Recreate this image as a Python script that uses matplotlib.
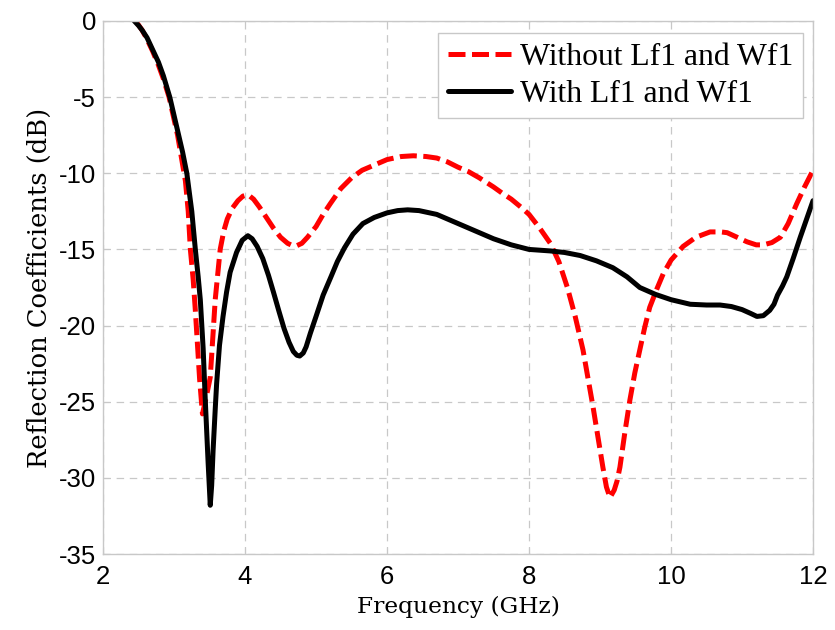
import numpy as np
import matplotlib
matplotlib.use("Agg")
import matplotlib.pyplot as plt

# Frequency sweep (GHz) and reflection coefficient (dB), without Lf1/Wf1
freq_without = [2.00, 2.05, 2.40, 2.46, 2.55, 2.62, 2.70, 2.78, 2.85, 2.93,
                3.05, 3.16, 3.20, 3.23, 3.27, 3.30, 3.36, 3.40, 3.44, 3.51,
                3.55, 3.58, 3.65, 3.70, 3.75, 3.82, 3.90, 3.97, 4.04, 4.12,
                4.20, 4.30, 4.40, 4.50, 4.60, 4.67, 4.73, 4.80, 4.88, 5.00,
                5.10, 5.20, 5.35, 5.50, 5.65, 5.80, 6.00, 6.20, 6.37, 6.55,
                6.70, 6.85, 7.00, 7.15, 7.30, 7.50, 7.62, 7.75, 7.88, 8.00,
                8.15, 8.30, 8.42, 8.54, 8.65, 8.76, 8.90, 8.97, 9.04, 9.09,
                9.14, 9.20, 9.24, 9.28, 9.35, 9.42, 9.49, 9.56, 9.63, 9.70,
                9.80, 9.89, 10.00, 10.17, 10.35, 10.55, 10.70, 10.79, 10.93, 11.07,
                11.20, 11.30, 11.42, 11.54, 11.65, 11.77, 11.88, 12.00]
s11_without = [-0.05, 1.5, 1.5, 0.0, -0.6, -1.2, -2.0, -2.9, -3.8, -5.0,
               -7.5, -10.5, -12.5, -15.0, -17.0, -19.0, -23.5, -25.8, -25.0, -23.4,
               -20.5, -18.3, -15.0, -13.8, -13.0, -12.3, -11.8, -11.5, -11.4, -11.7,
               -12.2, -12.9, -13.6, -14.2, -14.6, -14.75, -14.75, -14.6, -14.2, -13.5,
               -12.7, -12.0, -11.0, -10.3, -9.8, -9.5, -9.1, -8.9, -8.85, -8.9,
               -9.0, -9.25, -9.6, -9.9, -10.3, -10.9, -11.3, -11.7, -12.2, -12.7,
               -13.6, -14.6, -15.8, -17.5, -19.4, -21.6, -25.3, -27.3, -29.3, -30.6,
               -31.3, -30.8, -30.2, -29.3, -27.0, -24.9, -23.1, -21.6, -20.1, -18.8,
               -17.6, -16.6, -15.7, -14.8, -14.2, -13.85, -13.85, -13.9, -14.2, -14.5,
               -14.7, -14.7, -14.55, -14.2, -13.3, -12.0, -10.9, -9.8]

# Same sweep, with Lf1/Wf1
freq_with = [2.40, 2.44, 2.50, 2.55, 2.62, 2.70, 2.78, 2.85, 2.94, 3.05,
             3.12, 3.18, 3.25, 3.30, 3.34, 3.37, 3.41, 3.44, 3.48, 3.51,
             3.53, 3.55, 3.58, 3.60, 3.64, 3.69, 3.74, 3.79, 3.88, 3.96,
             4.04, 4.10, 4.17, 4.25, 4.33, 4.40, 4.48, 4.55, 4.62, 4.68,
             4.73, 4.77, 4.82, 4.86, 4.92, 5.00, 5.10, 5.21, 5.30, 5.40,
             5.52, 5.66, 5.82, 6.00, 6.15, 6.29, 6.45, 6.60, 6.70, 6.85,
             7.00, 7.25, 7.50, 7.75, 8.00, 8.30, 8.50, 8.72, 8.95, 9.18,
             9.38, 9.56, 9.78, 10.00, 10.27, 10.50, 10.69, 10.85, 11.00, 11.12,
             11.21, 11.30, 11.39, 11.45, 11.50, 11.57, 11.63, 11.72, 11.82, 11.91,
             12.00]
s11_with = [0.5, 0.0, -0.3, -0.6, -1.1, -1.9, -2.7, -3.6, -5.0, -7.2,
            -8.6, -10.0, -12.5, -15.0, -16.8, -18.3, -21.5, -24.9, -29.0, -31.8,
            -30.5, -28.2, -25.5, -23.8, -21.3, -19.4, -17.8, -16.5, -15.2, -14.4,
            -14.1, -14.3, -14.8, -15.6, -16.7, -17.8, -19.1, -20.2, -21.1, -21.7,
            -21.95, -22.0, -21.8, -21.4, -20.5, -19.4, -18.0, -16.8, -15.8, -14.9,
            -14.0, -13.3, -12.9, -12.6, -12.45, -12.4, -12.45, -12.6, -12.7, -13.0,
            -13.3, -13.8, -14.3, -14.7, -15.0, -15.1, -15.2, -15.4, -15.75, -16.2,
            -16.8, -17.5, -17.95, -18.3, -18.6, -18.65, -18.65, -18.75, -18.95, -19.2,
            -19.4, -19.35, -19.0, -18.6, -18.0, -17.4, -16.8, -15.6, -14.2, -13.0,
            -11.8]

x_ticks = [2, 4, 6, 8, 10, 12]
y_ticks = [0, -5, -10, -15, -20, -25, -30, -35]

SERIF = ["DejaVu Serif"]
TIMES = ["Liberation Serif", "DejaVu Serif"]
SANS = ["Liberation Sans", "DejaVu Sans"]


def main():
    plt.rcParams["axes.unicode_minus"] = False

    fig = plt.figure(figsize=(8.35, 6.30), dpi=100)
    ax = fig.add_axes([0.1234, 0.1206, 0.8503, 0.8461])

    ax.plot(freq_without, s11_without, color="#ff0000", lw=3.6,
            dashes=(3.4, 1.3), label="Without Lf1 and Wf1")
    ax.plot(freq_with, s11_with, color="black", lw=3.6,
            solid_capstyle="round", solid_joinstyle="round",
            label="With Lf1 and Wf1")

    ax.set_xlim(2, 12)
    ax.set_ylim(-35, 0)
    ax.set_xticks(x_ticks)
    ax.set_yticks(y_ticks)
    ax.grid(True, color="#c8c8c8", linestyle=(0, (6, 4.5)), linewidth=0.9)
    for sp in ax.spines.values():
        sp.set_color("#c8c8c8")
        sp.set_linewidth(1.0)
    ax.tick_params(direction="in", length=4, color="#c8c8c8", labelsize=18.5)
    ax.tick_params(axis="x", pad=8)
    ax.tick_params(axis="y", pad=5)
    for lab in ax.get_xticklabels() + ax.get_yticklabels():
        lab.set_family(SANS)

    ax.set_xlabel("Frequency (GHz)", family=SERIF, fontsize=16.8, labelpad=5)
    ax.set_ylabel("Reflection Coefficients (dB)", family=SERIF, fontsize=18.5,
                  labelpad=5)

    leg = ax.legend(loc="upper right", bbox_to_anchor=(0.986, 0.9775),
                    borderaxespad=0, prop={"family": TIMES, "size": 22.8},
                    handlelength=2.0, handletextpad=0.3, borderpad=0.3,
                    labelspacing=0.25, fancybox=False, framealpha=1)
    leg.get_frame().set_edgecolor("#c8c8c8")
    leg.get_frame().set_linewidth(1.0)

    fig.savefig("out.png", dpi=100)
    plt.close(fig)


if __name__ == "__main__":
    main()
